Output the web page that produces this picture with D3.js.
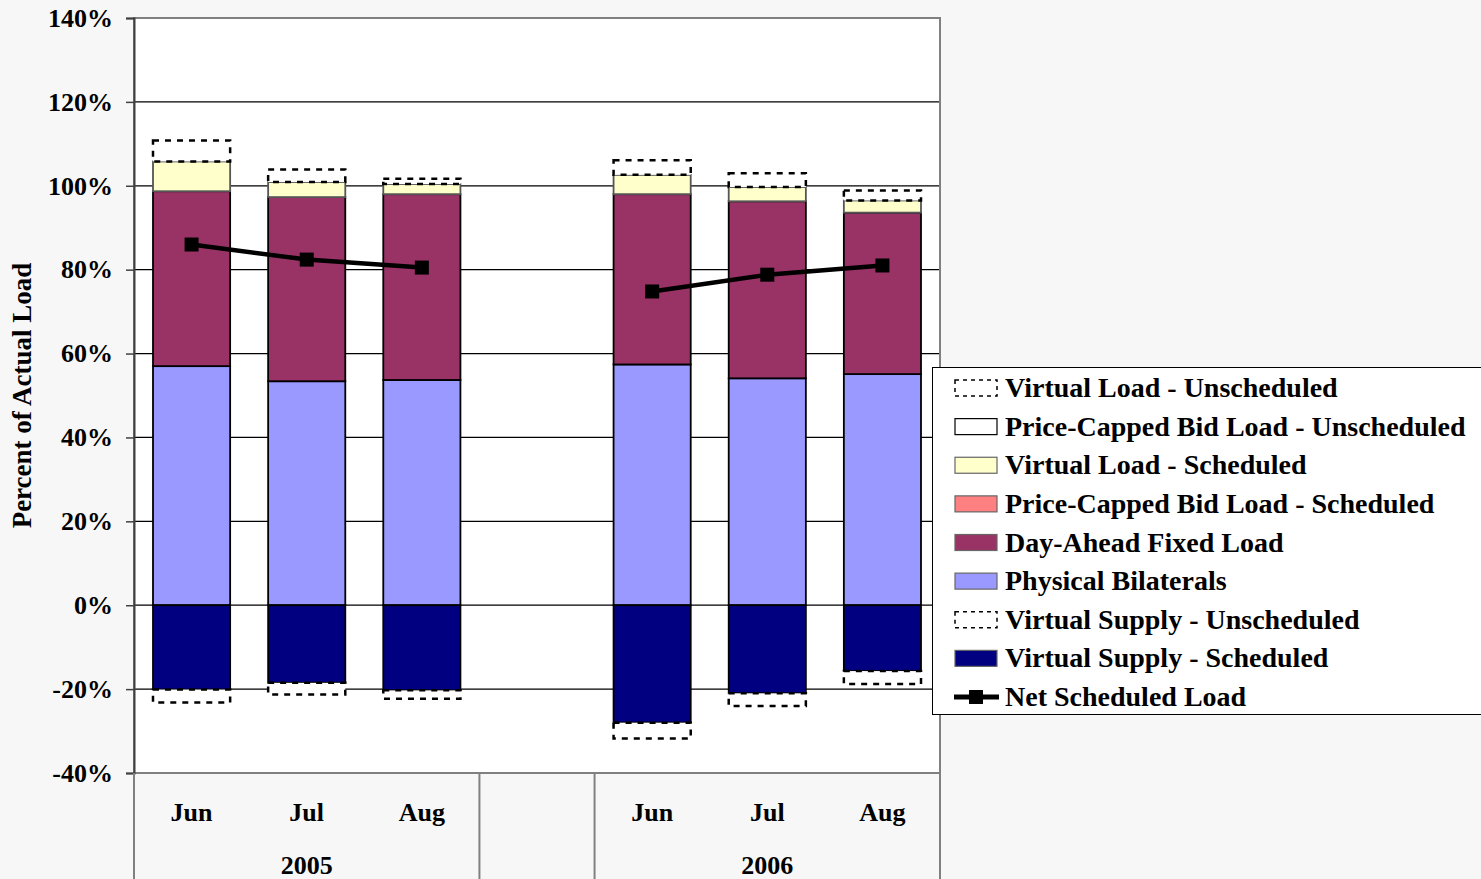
<!DOCTYPE html>
<html>
<head>
<meta charset="utf-8">
<script src="https://cdn.jsdelivr.net/npm/d3@7"></script>
<style>
  html, body { margin: 0; padding: 0; background: #f7f7f7; overflow: hidden; }
  svg { display: block; font-family: "Liberation Serif", "Times New Roman", serif; font-weight: bold; }
</style>
</head>
<body>
<div id="chart"></div>
<script>
// ---- data (percent of actual load), one slot per category; the empty slot is the gap ----
const months = ["Jun", "Jul", "Aug", "", "Jun", "Jul", "Aug"];
const years = [
  { label: "2005", from: 0, to: 2 },
  { label: "2006", from: 4, to: 6 },
];
const physicalBilaterals = [57.0, 53.4, 53.7, null, 57.4, 54.1, 55.1];
const dayAheadFixed = [41.7, 43.9, 44.3, null, 40.6, 42.2, 38.5];
const priceCappedScheduled = [0, 0, 0, null, 0, 0, 0];
const virtualLoadScheduled = [7.1, 3.6, 2.4, null, 4.6, 3.4, 2.9];
const priceCappedUnscheduled = [0, 0, 0, null, 0, 0, 0];
const virtualLoadUnscheduled = [5.0, 3.0, 1.3, null, 3.5, 3.3, 2.4];
const virtualSupplyScheduled = [-20.1, -18.5, -20.3, null, -28.0, -21.0, -15.7];
const virtualSupplyUnscheduled = [-3.1, -2.8, -2.0, null, -3.8, -3.0, -3.1];
const netScheduledLoad = [86.0, 82.4, 80.5, null, 74.8, 78.8, 81.0];
const yTicks = [-40, -20, 0, 20, 40, 60, 80, 100, 120, 140];

const COLOR = {
  pb: "#9999ff",
  da: "#993366",
  pcs: "#ff8080",
  vls: "#ffffcc",
  vs: "#000080",
  frame: "#808080",
};

// stacking order, bottom to top (positive side) and top to bottom (negative side)
const positiveSeries = [
  { key: "Physical Bilaterals", values: physicalBilaterals, fill: COLOR.pb, stroke: "#000", dash: null },
  { key: "Day-Ahead Fixed Load", values: dayAheadFixed, fill: COLOR.da, stroke: "#000", dash: null },
  { key: "Price-Capped Bid Load - Scheduled", values: priceCappedScheduled, fill: COLOR.pcs, stroke: "#000", dash: null },
  { key: "Virtual Load - Scheduled", values: virtualLoadScheduled, fill: COLOR.vls, stroke: "#555", dash: null },
  { key: "Price-Capped Bid Load - Unscheduled", values: priceCappedUnscheduled, fill: "#fff", stroke: "#000", dash: null },
  { key: "Virtual Load - Unscheduled", values: virtualLoadUnscheduled, fill: "#fff", stroke: "#000", dash: "6,6" },
];
const negativeSeries = [
  { key: "Virtual Supply - Scheduled", values: virtualSupplyScheduled, fill: COLOR.vs, stroke: "#000", dash: null },
  { key: "Virtual Supply - Unscheduled", values: virtualSupplyUnscheduled, fill: "#fff", stroke: "#000", dash: "6,6" },
];
const legendOrder = [
  "Virtual Load - Unscheduled",
  "Price-Capped Bid Load - Unscheduled",
  "Virtual Load - Scheduled",
  "Price-Capped Bid Load - Scheduled",
  "Day-Ahead Fixed Load",
  "Physical Bilaterals",
  "Virtual Supply - Unscheduled",
  "Virtual Supply - Scheduled",
  "Net Scheduled Load",
];

// ---- layout ----
const width = 1481, height = 879;
const plot = { left: 134, right: 940, top: 18, bottom: 773 };

const svg = d3.select("#chart").append("svg")
  .attr("width", width).attr("height", height);

const idx = months.map((_, i) => i);
const x = d3.scaleBand().domain(idx).range([plot.left, plot.right]).padding(0);
const barW = x.bandwidth() * 0.67;
const y = d3.scaleLinear().domain([-40, 140]).range([plot.bottom, plot.top]);

// plot area
svg.append("rect")
  .attr("x", plot.left).attr("y", plot.top)
  .attr("width", plot.right - plot.left).attr("height", plot.bottom - plot.top)
  .attr("fill", "#fff");

// gridlines
svg.append("g").selectAll("line")
  .data(yTicks.filter((t) => t > -40 && t < 140))
  .join("line")
  .attr("x1", plot.left).attr("x2", plot.right)
  .attr("y1", (t) => y(t)).attr("y2", (t) => y(t))
  .attr("stroke", "#000").attr("stroke-width", 1.2);

// stacked rectangles
function stackRects(series) {
  const rects = [];
  idx.forEach((i) => {
    if (series[0].values[i] == null) return;
    let base = 0;
    series.forEach((s) => {
      const v = s.values[i];
      if (!v) return;
      rects.push({ i, s, y0: base, y1: base + v });
      base += v;
    });
  });
  return rects;
}
const allRects = stackRects(positiveSeries).concat(stackRects(negativeSeries));

svg.append("g").selectAll("rect")
  .data(allRects)
  .join("rect")
  .attr("x", (d) => x(d.i) + (x.bandwidth() - barW) / 2)
  .attr("width", barW)
  .attr("y", (d) => y(Math.max(d.y0, d.y1)))
  .attr("height", (d) => Math.abs(y(d.y0) - y(d.y1)))
  .attr("fill", (d) => d.s.fill)
  .attr("stroke", (d) => d.s.stroke)
  .attr("stroke-width", (d) => (d.s.dash ? 2.5 : 1.8))
  .attr("stroke-dasharray", (d) => d.s.dash);

// net scheduled load line + square markers
const netPts = idx.filter((i) => netScheduledLoad[i] != null);
const cx = (i) => x(i) + x.bandwidth() / 2;
const lineGen = d3.line().x((i) => cx(i)).y((i) => y(netScheduledLoad[i]));
[[0, 1, 2], [4, 5, 6]].forEach((seg) => {
  svg.append("path")
    .attr("d", lineGen(seg))
    .attr("fill", "none").attr("stroke", "#000").attr("stroke-width", 4.5);
});
svg.append("g").selectAll("rect")
  .data(netPts)
  .join("rect")
  .attr("x", (i) => cx(i) - 7).attr("y", (i) => y(netScheduledLoad[i]) - 7)
  .attr("width", 14).attr("height", 14)
  .attr("fill", "#000");

// frame
svg.append("rect")
  .attr("x", plot.left).attr("y", plot.top)
  .attr("width", plot.right - plot.left).attr("height", plot.bottom - plot.top)
  .attr("fill", "none").attr("stroke", COLOR.frame).attr("stroke-width", 2);

// y axis
const yAxis = svg.append("g")
  .attr("transform", `translate(${plot.left},0)`)
  .call(d3.axisLeft(y).tickValues(yTicks).tickSize(8).tickPadding(13)
    .tickFormat((d) => d + "%"));
yAxis.select(".domain").attr("stroke", "#404040").attr("stroke-width", 2);
yAxis.selectAll(".tick line").attr("stroke", "#404040").attr("stroke-width", 1.5);
yAxis.selectAll(".tick text")
  .attr("fill", "#000")
  .attr("font-family", "'Liberation Serif', 'Times New Roman', serif")
  .attr("font-weight", "bold")
  .attr("font-size", 26);

svg.append("text")
  .attr("transform", `translate(31,${(plot.top + plot.bottom) / 2}) rotate(-90)`)
  .attr("text-anchor", "middle")
  .attr("font-size", 27)
  .text("Percent of Actual Load");

// category axis: months, separators, years
const cat = svg.append("g");
cat.selectAll("text.month")
  .data(idx.filter((i) => months[i]))
  .join("text")
  .attr("class", "month")
  .attr("x", (i) => cx(i))
  .attr("y", 821)
  .attr("text-anchor", "middle")
  .attr("font-size", 26)
  .text((i) => months[i]);

const seps = [x(0), x(3), x(4), x(6) + x.bandwidth()];
cat.selectAll("line")
  .data(seps)
  .join("line")
  .attr("x1", (d) => d).attr("x2", (d) => d)
  .attr("y1", plot.bottom).attr("y2", height)
  .attr("stroke", COLOR.frame).attr("stroke-width", 2);

cat.selectAll("text.year")
  .data(years)
  .join("text")
  .attr("class", "year")
  .attr("x", (d) => (x(d.from) + x(d.to) + x.bandwidth()) / 2)
  .attr("y", 874)
  .attr("text-anchor", "middle")
  .attr("font-size", 26)
  .text((d) => d.label);

// legend
const legend = svg.append("g");
legend.append("rect")
  .attr("x", 932.5).attr("y", 367.5)
  .attr("width", 600).attr("height", 347)
  .attr("fill", "#fff").attr("stroke", "#000").attr("stroke-width", 1);

const styleOf = new Map(positiveSeries.concat(negativeSeries).map((s) => [s.key, s]));
const rowY = d3.scalePoint().domain(legendOrder).range([388, 697]);

legendOrder.forEach((key) => {
  const cy = rowY(key);
  const g = legend.append("g");
  if (key === "Net Scheduled Load") {
    g.append("line")
      .attr("x1", 954).attr("x2", 999).attr("y1", cy).attr("y2", cy)
      .attr("stroke", "#000").attr("stroke-width", 5);
    g.append("rect")
      .attr("x", 969).attr("y", cy - 7).attr("width", 14).attr("height", 14)
      .attr("fill", "#000");
  } else {
    const s = styleOf.get(key);
    g.append("rect")
      .attr("x", 955).attr("y", cy - 8).attr("width", 42).attr("height", 16)
      .attr("fill", s.fill)
      .attr("stroke", s.dash ? "#000" : (s.fill === "#fff" ? "#000" : "#666"))
      .attr("stroke-width", s.dash ? 1.5 : 1.2)
      .attr("stroke-dasharray", s.dash ? "4,4" : null);
  }
  g.append("text")
    .attr("x", 1005).attr("y", cy + 9)
    .attr("font-size", 28)
    .text(key);
});
</script>
</body>
</html>
